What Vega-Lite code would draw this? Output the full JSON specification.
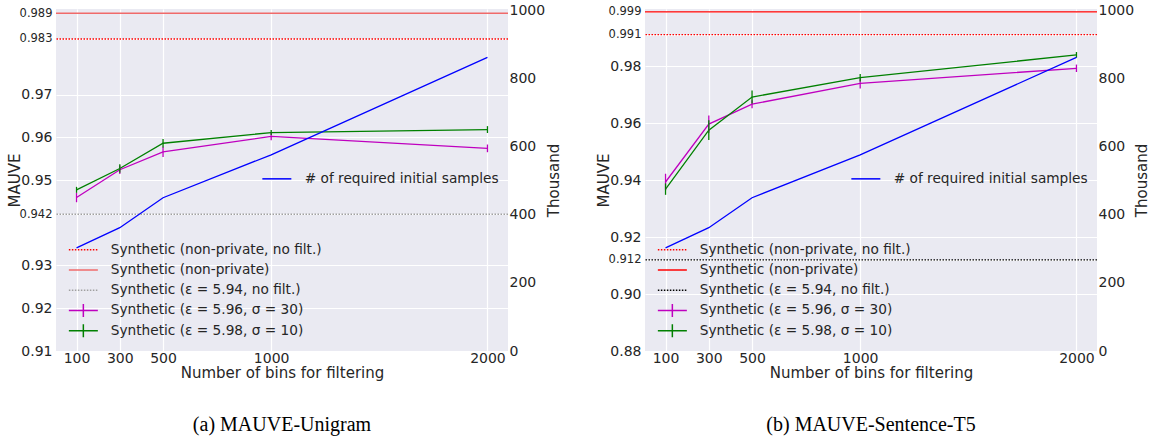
{
  "$schema": "https://vega.github.io/schema/vega-lite/v6.json",
  "background": "white",
  "padding": {"left": 7, "top": 3, "right": 5, "bottom": 5},
  "spacing": 35,
  "datasets": {
    "uni_refs": [
      {"series": "Synthetic (non-private, no filt.)", "mauve": 0.983},
      {"series": "Synthetic (non-private)", "mauve": 0.989},
      {"series": "Synthetic (ε = 5.94, no filt.)", "mauve": 0.942}
    ],
    "uni_pts": [
      {"series": "Synthetic (ε = 5.96, σ = 30)", "bins": 100, "mauve": 0.9459, "err": 0.0011},
      {"series": "Synthetic (ε = 5.96, σ = 30)", "bins": 300, "mauve": 0.9524, "err": 0.001},
      {"series": "Synthetic (ε = 5.96, σ = 30)", "bins": 500, "mauve": 0.9566, "err": 0.0012},
      {"series": "Synthetic (ε = 5.96, σ = 30)", "bins": 1000, "mauve": 0.9602, "err": 0.0009},
      {"series": "Synthetic (ε = 5.96, σ = 30)", "bins": 2000, "mauve": 0.9574, "err": 0.0009},
      {"series": "Synthetic (ε = 5.98, σ = 10)", "bins": 100, "mauve": 0.9477, "err": 0.0007},
      {"series": "Synthetic (ε = 5.98, σ = 10)", "bins": 300, "mauve": 0.9527, "err": 0.001},
      {"series": "Synthetic (ε = 5.98, σ = 10)", "bins": 500, "mauve": 0.9586, "err": 0.001},
      {"series": "Synthetic (ε = 5.98, σ = 10)", "bins": 1000, "mauve": 0.9611, "err": 0.0006},
      {"series": "Synthetic (ε = 5.98, σ = 10)", "bins": 2000, "mauve": 0.9618, "err": 0.0008}
    ],
    "t5_refs": [
      {"series": "Synthetic (non-private, no filt.)", "mauve": 0.991},
      {"series": "Synthetic (non-private)", "mauve": 0.999},
      {"series": "Synthetic (ε = 5.94, no filt.)", "mauve": 0.912}
    ],
    "t5_pts": [
      {"series": "Synthetic (ε = 5.96, σ = 30)", "bins": 100, "mauve": 0.9393, "err": 0.0029},
      {"series": "Synthetic (ε = 5.96, σ = 30)", "bins": 300, "mauve": 0.9596, "err": 0.003},
      {"series": "Synthetic (ε = 5.96, σ = 30)", "bins": 500, "mauve": 0.9666, "err": 0.0014},
      {"series": "Synthetic (ε = 5.96, σ = 30)", "bins": 1000, "mauve": 0.9739, "err": 0.0018},
      {"series": "Synthetic (ε = 5.96, σ = 30)", "bins": 2000, "mauve": 0.9792, "err": 0.0013},
      {"series": "Synthetic (ε = 5.98, σ = 10)", "bins": 100, "mauve": 0.9368, "err": 0.002},
      {"series": "Synthetic (ε = 5.98, σ = 10)", "bins": 300, "mauve": 0.9575, "err": 0.0035},
      {"series": "Synthetic (ε = 5.98, σ = 10)", "bins": 500, "mauve": 0.9691, "err": 0.0023},
      {"series": "Synthetic (ε = 5.98, σ = 10)", "bins": 1000, "mauve": 0.9759, "err": 0.0013},
      {"series": "Synthetic (ε = 5.98, σ = 10)", "bins": 2000, "mauve": 0.9839, "err": 0.001}
    ],
    "samples": [
      {"series": "# of required initial samples", "bins": 100, "thousand": 303},
      {"series": "# of required initial samples", "bins": 300, "thousand": 362},
      {"series": "# of required initial samples", "bins": 500, "thousand": 450},
      {"series": "# of required initial samples", "bins": 1000, "thousand": 576},
      {"series": "# of required initial samples", "bins": 2000, "thousand": 862}
    ]
  },
  "hconcat": [
    {
      "width": 452,
      "height": 342,
      "title": {"text": "(a) MAUVE-Unigram", "orient": "bottom", "anchor": "middle", "font": "Liberation Serif", "fontSize": 20, "fontWeight": "normal", "color": "#000000", "offset": 35},
      "layer": [
        {
          "layer": [
            {
              "data": {"name": "uni_refs"},
              "mark": {"type": "rule", "strokeWidth": 1.4},
              "encoding": {
                "y": {"field": "mauve", "type": "quantitative", "title": "MAUVE",
                  "scale": {"domain": [0.91, 0.99], "zero": false, "nice": false},
                  "axis": {"orient": "left", "values": [0.91, 0.92, 0.93, 0.942, 0.95, 0.96, 0.97, 0.983, 0.989],
                    "labelExpr": "(datum.value == 0.942 || datum.value == 0.983 || datum.value == 0.989) ? format(datum.value, '.3f') : format(datum.value, '.2f')",
                    "labelFontSize": {"condition": {"test": "datum.value == 0.942 || datum.value == 0.983 || datum.value == 0.989", "value": 11.5}, "value": 14},
                    "labelPadding": 4, "minExtent": 30, "maxExtent": 30, "titlePadding": 4}},
                "color": {"field": "series", "type": "nominal",
                  "scale": {"domain": ["Synthetic (non-private, no filt.)", "Synthetic (non-private)", "Synthetic (ε = 5.94, no filt.)", "Synthetic (ε = 5.96, σ = 30)", "Synthetic (ε = 5.98, σ = 10)"],
                    "range": ["#ff0000", "#f06a6a", "#a0a0a0", "#bf00bf", "#008000"]},
                  "legend": {"orient": "none", "legendX": 20.5, "legendY": 234, "title": null, "symbolType": "M-2.9,0H2.9", "symbolSize": 100, "symbolStrokeWidth": 1.5, "labelFont": "DejaVu Sans", "labelFontSize": 13.7, "labelColor": "#262626", "labelOffset": 20.5, "rowPadding": 0.2, "padding": 0, "labelLimit": 400,
                    "encode": {"symbols": {"update": {"shape": {"signal": "indexof(datum.value, 'σ') >= 0 ? 'M-2.9,0H2.9M0,-1.3V1.3' : 'M0,-1.3M0,1.3M-2.9,0H2.9'"}, "strokeDash": {"signal": "indexof(datum.value, 'no filt') >= 0 ? [1.5, 1.5] : [1, 0]"}}}}}},
                "strokeDash": {"field": "series", "type": "nominal",
                  "scale": {"domain": ["Synthetic (non-private, no filt.)", "Synthetic (non-private)", "Synthetic (ε = 5.94, no filt.)"], "range": [[1.5, 1.5], [1, 0], [1.5, 1.5]]},
                  "legend": null}
              }
            },
            {
              "data": {"name": "uni_pts"},
              "mark": {"type": "line", "strokeWidth": 1.3},
              "encoding": {
                "x": {"field": "bins", "type": "quantitative", "title": "Number of bins for filtering",
                  "scale": {"domain": [5, 2095], "zero": false, "nice": false},
                  "axis": {"values": [100, 300, 500, 1000, 2000], "format": "d", "labelPadding": 0, "titlePadding": 0}},
                "y": {"field": "mauve", "type": "quantitative", "title": "MAUVE"},
                "color": {"field": "series", "type": "nominal"}
              }
            },
            {
              "data": {"name": "uni_pts"},
              "mark": {"type": "errorbar", "thickness": 1.3},
              "encoding": {
                "x": {"field": "bins", "type": "quantitative", "title": "Number of bins for filtering"},
                "y": {"field": "mauve", "type": "quantitative", "title": "MAUVE"},
                "yError": {"field": "err"},
                "color": {"field": "series", "type": "nominal"}
              }
            }
          ]
        },
        {
          "data": {"name": "samples"},
          "mark": {"type": "line", "strokeWidth": 1.3},
          "encoding": {
            "x": {"field": "bins", "type": "quantitative", "title": "Number of bins for filtering"},
            "y": {"field": "thousand", "type": "quantitative", "title": "Thousand",
              "scale": {"domain": [0, 1004], "zero": false, "nice": false},
              "axis": {"orient": "right", "values": [0, 200, 400, 600, 800, 1000], "format": "d", "labelPadding": 1, "minExtent": 36, "maxExtent": 36, "titlePadding": 2, "titleAngle": 270, "titleBaseline": "top"}},
            "stroke": {"field": "series", "type": "nominal", "scale": {"range": ["#0000ff"]},
              "legend": {"orient": "none", "legendX": 214, "legendY": 163, "title": null, "symbolType": "M-2.9,0H2.9", "symbolSize": 100, "symbolStrokeWidth": 1.5, "labelFont": "DejaVu Sans", "labelFontSize": 13.7, "labelColor": "#262626", "labelOffset": 21, "padding": 0, "labelLimit": 400}}
          }
        }
      ],
      "resolve": {"scale": {"y": "independent"}, "axis": {"y": "independent"}}
    },
    {
      "width": 452,
      "height": 342,
      "title": {"text": "(b) MAUVE-Sentence-T5", "orient": "bottom", "anchor": "middle", "font": "Liberation Serif", "fontSize": 20, "fontWeight": "normal", "color": "#000000", "offset": 35},
      "layer": [
        {
          "layer": [
            {
              "data": {"name": "t5_refs"},
              "mark": {"type": "rule", "strokeWidth": 1.2},
              "encoding": {
                "y": {"field": "mauve", "type": "quantitative", "title": "MAUVE",
                  "scale": {"domain": [0.88, 1.0], "zero": false, "nice": false},
                  "axis": {"orient": "left", "values": [0.88, 0.9, 0.912, 0.92, 0.94, 0.96, 0.98, 0.991, 0.999],
                    "labelExpr": "(datum.value == 0.912 || datum.value == 0.991 || datum.value == 0.999) ? format(datum.value, '.3f') : format(datum.value, '.2f')",
                    "labelFontSize": {"condition": {"test": "datum.value == 0.912 || datum.value == 0.991 || datum.value == 0.999", "value": 11.5}, "value": 14},
                    "labelPadding": 4, "minExtent": 30, "maxExtent": 30, "titlePadding": 4}},
                "color": {"field": "series", "type": "nominal",
                  "scale": {"domain": ["Synthetic (non-private, no filt.)", "Synthetic (non-private)", "Synthetic (ε = 5.94, no filt.)", "Synthetic (ε = 5.96, σ = 30)", "Synthetic (ε = 5.98, σ = 10)"],
                    "range": ["#ff0000", "#ff0000", "#000000", "#bf00bf", "#008000"]},
                  "legend": {"orient": "none", "legendX": 20.5, "legendY": 234, "title": null, "symbolType": "M-2.9,0H2.9", "symbolSize": 100, "symbolStrokeWidth": 1.5, "labelFont": "DejaVu Sans", "labelFontSize": 13.7, "labelColor": "#262626", "labelOffset": 20.5, "rowPadding": 0.2, "padding": 0, "labelLimit": 400,
                    "encode": {"symbols": {"update": {"shape": {"signal": "indexof(datum.value, 'σ') >= 0 ? 'M-2.9,0H2.9M0,-1.3V1.3' : 'M0,-1.3M0,1.3M-2.9,0H2.9'"}, "strokeDash": {"signal": "indexof(datum.value, 'no filt') >= 0 ? [1.5, 1.5] : [1, 0]"}}}}}},
                "strokeDash": {"field": "series", "type": "nominal",
                  "scale": {"domain": ["Synthetic (non-private, no filt.)", "Synthetic (non-private)", "Synthetic (ε = 5.94, no filt.)"], "range": [[1.5, 1.5], [1, 0], [1.5, 1.5]]},
                  "legend": null}
              }
            },
            {
              "data": {"name": "t5_pts"},
              "mark": {"type": "line", "strokeWidth": 1.3},
              "encoding": {
                "x": {"field": "bins", "type": "quantitative", "title": "Number of bins for filtering",
                  "scale": {"domain": [5, 2095], "zero": false, "nice": false},
                  "axis": {"values": [100, 300, 500, 1000, 2000], "format": "d", "labelPadding": 0, "titlePadding": 0}},
                "y": {"field": "mauve", "type": "quantitative", "title": "MAUVE"},
                "color": {"field": "series", "type": "nominal"}
              }
            },
            {
              "data": {"name": "t5_pts"},
              "mark": {"type": "errorbar", "thickness": 1.3},
              "encoding": {
                "x": {"field": "bins", "type": "quantitative", "title": "Number of bins for filtering"},
                "y": {"field": "mauve", "type": "quantitative", "title": "MAUVE"},
                "yError": {"field": "err"},
                "color": {"field": "series", "type": "nominal"}
              }
            }
          ]
        },
        {
          "data": {"name": "samples"},
          "mark": {"type": "line", "strokeWidth": 1.3},
          "encoding": {
            "x": {"field": "bins", "type": "quantitative", "title": "Number of bins for filtering"},
            "y": {"field": "thousand", "type": "quantitative", "title": "Thousand",
              "scale": {"domain": [0, 1004], "zero": false, "nice": false},
              "axis": {"orient": "right", "values": [0, 200, 400, 600, 800, 1000], "format": "d", "labelPadding": 1, "minExtent": 36, "maxExtent": 36, "titlePadding": 1, "titleAngle": 270, "titleBaseline": "top"}},
            "stroke": {"field": "series", "type": "nominal", "scale": {"range": ["#0000ff"]},
              "legend": {"orient": "none", "legendX": 214, "legendY": 163, "title": null, "symbolType": "M-2.9,0H2.9", "symbolSize": 100, "symbolStrokeWidth": 1.5, "labelFont": "DejaVu Sans", "labelFontSize": 13.7, "labelColor": "#262626", "labelOffset": 21, "padding": 0, "labelLimit": 400}}
          }
        }
      ],
      "resolve": {"scale": {"y": "independent"}, "axis": {"y": "independent"}}
    }
  ],
  "resolve": {
    "scale": {"color": "independent", "stroke": "independent", "strokeDash": "independent", "x": "independent", "y": "independent"},
    "legend": {"color": "independent", "stroke": "independent", "strokeDash": "independent"}
  },
  "config": {
    "view": {"fill": "#EAEAF2", "stroke": null},
    "axis": {"domain": false, "ticks": false, "grid": true, "gridColor": "#ffffff", "gridWidth": 1.2,
      "labelFont": "DejaVu Sans", "labelFontSize": 14, "labelColor": "#262626",
      "titleFont": "DejaVu Sans", "titleFontSize": 15, "titleFontWeight": "normal", "titleColor": "#262626"}
  }
}
